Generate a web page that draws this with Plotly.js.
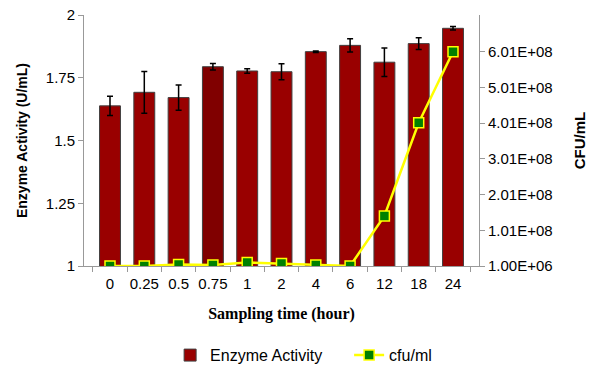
<!DOCTYPE html>
<html><head><meta charset="utf-8">
<script src="https://cdn.plot.ly/plotly-3.0.1.min.js"></script>
<style>body{margin:0;background:#fff}#c{width:595px;height:370px}</style>
</head><body><div id="c"></div>
<script>
var categories = ['0','0.25','0.5','0.75','1','2','4','6','12','18','24'];
var enzymeActivity = [1.638, 1.692, 1.671, 1.794, 1.777, 1.774, 1.854, 1.879, 1.812, 1.886, 1.947];
var enzymeError = [0.038, 0.083, 0.050, 0.013, 0.009, 0.032, 0.003, 0.026, 0.057, 0.023, 0.007];
var cfu = [1.0e6, 1.0e6, 5.0e6, 4.0e6, 1.1e7, 8.0e6, 4.0e6, 1.0e6, 1.41e8, 4.02e8, 6.01e8];
var barColors = ['#990000','#990000','#990000','#800000','#990000','#990000','#990000','#990000','#990000','#990000','#990000'];
var leftTicks = [1, 1.25, 1.5, 1.75, 2];
var leftTickText = ['1', '1.25', '1.5', '1.75', '2'];
var rightTicks = [1.0e6, 1.01e8, 2.01e8, 3.01e8, 4.01e8, 5.01e8, 6.01e8];
var rightTickText = ['1.00E+06', '1.01E+08', '2.01E+08', '3.01E+08', '4.01E+08', '5.01E+08', '6.01E+08'];

var font = 'Liberation Sans, Arial, sans-serif';
var traces = [
  {
    type: 'bar', name: 'Enzyme Activity', x: categories, y: enzymeActivity,
    marker: {color: barColors, line: {color: '#404040', width: 1}},
    error_y: {type: 'data', array: enzymeError, visible: true, color: '#000', thickness: 1.5, width: 3}
  },
  {
    type: 'scatter', mode: 'lines+markers', name: 'cfu/ml', x: categories, y: cfu, yaxis: 'y2',
    line: {color: '#ffff00', width: 2.5},
    marker: {symbol: 'square', size: 10, color: '#008000', line: {color: '#ffff00', width: 1.5}}
  }
];
var layout = {
  width: 595, height: 370,
  margin: {l: 84, r: 116, t: 15, b: 104},
  paper_bgcolor: '#fff', plot_bgcolor: '#fff',
  font: {family: font, size: 15, color: '#000'},
  bargap: 0.39,
  showlegend: true,
  legend: {orientation: 'h', x: 0.218, xanchor: 'left', yref: 'container', y: 0.04, yanchor: 'middle',
    font: {family: font, size: 16}, traceorder: 'normal', itemwidth: 30,
    entrywidth: 134, entrywidthmode: 'pixels'},
  xaxis: {
    type: 'category', showline: true, linecolor: '#999999', linewidth: 1,
    ticks: 'outside', tickson: 'boundaries', ticklen: 5, tickcolor: '#999999',
    showgrid: false, zeroline: false, tickfont: {size: 15}, tickangle: 0, ticklabelstandoff: 4,
    title: {text: 'Sampling time (hour)', font: {family: 'Liberation Serif, Times New Roman, serif', size: 16, weight: 'bold'}, standoff: 16}
  },
  yaxis: {
    range: [1, 2], tickvals: leftTicks, ticktext: leftTickText,
    showline: true, linecolor: '#999999', linewidth: 1,
    ticks: 'outside', ticklen: 5, tickcolor: '#999999',
    showgrid: false, zeroline: false, tickfont: {size: 15},
    title: {text: 'Enzyme Activity (U/mL)', font: {size: 14, weight: 'bold'}, standoff: 14}
  },
  yaxis2: {
    overlaying: 'y', side: 'right', range: [1.0e6, 7.04e8],
    tickvals: rightTicks, ticktext: rightTickText,
    showline: true, linecolor: '#999999', linewidth: 1,
    ticks: 'outside', ticklen: 5, tickcolor: '#999999',
    showgrid: false, zeroline: false, tickfont: {size: 15},
    title: {text: 'CFU/mL', font: {size: 15, weight: 'bold'}, standoff: 22}
  }
};
Plotly.newPlot('c', traces, layout, {displayModeBar: false, staticPlot: true});
</script></body></html>
